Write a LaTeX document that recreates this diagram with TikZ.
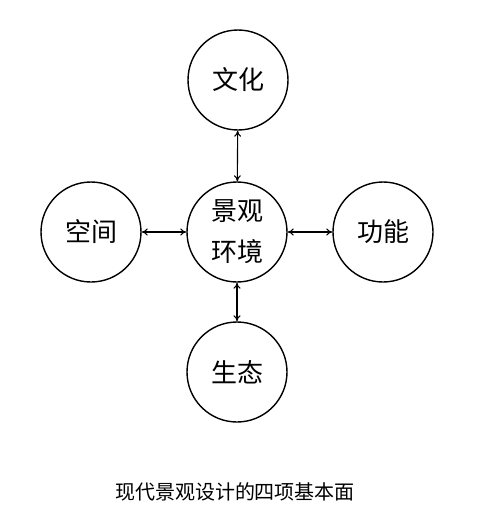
\documentclass[tikz,border=0pt]{standalone}
\usepackage{fontspec}
\setmainfont{Noto Sans CJK SC}
\usetikzlibrary{arrows.meta}
\begin{document}
\begin{tikzpicture}[x=1pt,y=-1pt,
  ring/.style={circle,draw,line width=1.4pt,minimum size=100pt,inner sep=0pt,font=\fontsize{26}{41}\selectfont,align=center},
  link/.style={line width=1.1pt,{To[length=6pt,width=7pt]}-{To[length=6pt,width=7pt]}}]
\useasboundingbox[fill=white] (0,0) rectangle (487,531);
\node[ring] (c) at (237,232) {景观\\环境};
\node[ring] (t) at (238,80) {文化};
\node[ring] (l) at (91,232) {空间};
\node[ring] (r) at (383,232) {功能};
\node[ring] (b) at (237,372) {生态};
\draw[link] (t) -- (c);
\draw[link] (l) -- (c);
\draw[link] (c) -- (r);
\draw[link] (c) -- (b);
\node[font=\fontsize{20}{22}\selectfont] (cap) at (235,492) {现代景观设计的四项基本面};
\end{tikzpicture}
\end{document}
